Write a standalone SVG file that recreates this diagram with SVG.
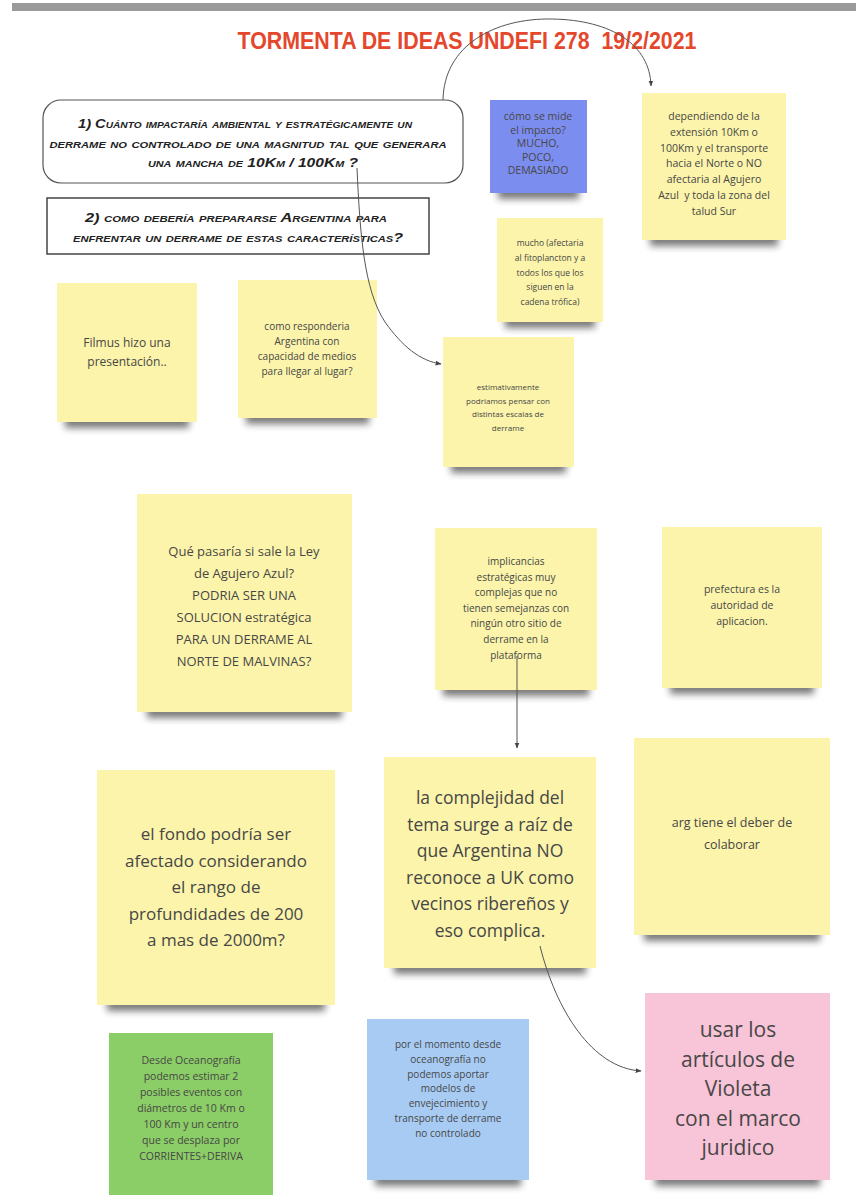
<svg xmlns="http://www.w3.org/2000/svg" width="856" height="1195" viewBox="0 0 856 1195">
<style>
.sh{fill:#222;opacity:.6;filter:url(#blur)}
.y{fill:#FBF4AA}
.bl{fill:#7C8DF0}
.lb{fill:#A7CBF3}
.gr{fill:#8BCD66}
.pk{fill:#F8C4D7}
.t{font-family:"Open Sans","Liberation Sans",sans-serif;fill:#474747;text-anchor:middle}
.hand{font-family:"Liberation Sans",sans-serif;font-weight:bold;font-style:italic;font-variant:small-caps;fill:#222;text-anchor:middle}
.conn{fill:none;stroke:#555;stroke-width:1}
</style>
<defs>
<filter id="blur" x="-20%" y="-200%" width="140%" height="500%"><feGaussianBlur stdDeviation="3.5"/></filter>
<marker id="arr" viewBox="0 0 10 10" refX="9" refY="5" markerWidth="6" markerHeight="6" orient="auto"><path d="M0,1 L10,5 L0,9 z" fill="#444"/></marker>
</defs>
<rect width="856" height="1195" fill="#fff"/>
<rect x="12" y="3" width="844" height="8" fill="#9a9a9a"/>
<text id="title" x="467" y="49" textLength="459" lengthAdjust="spacingAndGlyphs" font-family="Liberation Sans, sans-serif" font-weight="bold" font-size="23" fill="#E4472B" text-anchor="middle">TORMENTA DE IDEAS UNDEFI 278&#160; 19/2/2021</text>

<g id="q1">
<rect x="43" y="100" width="420" height="83" rx="18" fill="#fff" stroke="#555" stroke-width="1.2"/>
<text class="hand" font-size="13"><tspan x="245" y="128" textLength="334" lengthAdjust="spacingAndGlyphs">1) Cuánto impactaría ambiental y estratégicamente un</tspan><tspan x="248" y="148" textLength="397" lengthAdjust="spacingAndGlyphs">derrame no controlado de una magnitud tal que generara</tspan><tspan x="253" y="167" textLength="210" lengthAdjust="spacingAndGlyphs">una mancha de 10Km / 100Km ?</tspan></text>
</g>
<g id="q2">
<rect x="47" y="198" width="382" height="56" fill="#fff" stroke="#444" stroke-width="1.5"/>
<text class="hand" font-size="13"><tspan x="236" y="222" textLength="302" lengthAdjust="spacingAndGlyphs">2) como debería prepararse Argentina para</tspan><tspan x="238" y="242" textLength="330" lengthAdjust="spacingAndGlyphs">enfrentar un derrame de estas características?</tspan></text>
</g>

<g id="s-medida">
<rect class="sh" x="498" y="183" width="81" height="16"/>
<rect class="bl" x="490" y="100" width="97" height="93"/>
<text class="t" font-size="10.5" fill="#333"><tspan x="538" y="120">cómo se mide</tspan><tspan x="538" dy="13.5">el impacto?</tspan><tspan x="538" dy="13.5">MUCHO,</tspan><tspan x="538" dy="13.5">POCO,</tspan><tspan x="538" dy="13.5">DEMASIADO</tspan></text>
</g>
<g id="s-dependiendo">
<rect class="sh" x="650" y="230" width="128" height="16"/>
<rect class="y" x="642" y="93" width="144" height="147"/>
<text class="t" font-size="10.5"><tspan x="714" y="120">dependiendo de la</tspan><tspan x="714" dy="15.8">extensión 10Km o</tspan><tspan x="714" dy="15.8">100Km y el transporte</tspan><tspan x="714" dy="15.8">hacia el Norte o NO</tspan><tspan x="714" dy="15.8">afectaria al Agujero</tspan><tspan x="714" dy="15.8">Azul&#160; y toda la zona del</tspan><tspan x="714" dy="15.8">talud Sur</tspan></text>
</g>
<g id="s-mucho">
<rect class="sh" x="505" y="312" width="90" height="16"/>
<rect class="y" x="497" y="218" width="106" height="104"/>
<text class="t" font-size="8.5"><tspan x="550" y="246">mucho (afectaria</tspan><tspan x="550" dy="14.8">al fitoplancton y a</tspan><tspan x="550" dy="14.8">todos los que los</tspan><tspan x="550" dy="14.8">siguen en la</tspan><tspan x="550" dy="14.8">cadena trófica)</tspan></text>
</g>
<g id="s-filmus">
<rect class="sh" x="65" y="412" width="124" height="16"/>
<rect class="y" x="57" y="283" width="140" height="139"/>
<text class="t" font-size="12"><tspan x="127" y="347">Filmus hizo una</tspan><tspan x="127" dy="19">presentación..</tspan></text>
</g>
<g id="s-responderia">
<rect class="sh" x="246" y="408" width="123" height="16"/>
<rect class="y" x="238" y="280" width="139" height="138"/>
<text class="t" font-size="10"><tspan x="307" y="330">como responderia</tspan><tspan x="307" dy="15">Argentina con</tspan><tspan x="307" dy="15">capacidad de medios</tspan><tspan x="307" dy="15">para llegar al lugar?</tspan></text>
</g>
<g id="s-estimativamente">
<rect class="sh" x="451" y="457" width="115" height="16"/>
<rect class="y" x="443" y="337" width="131" height="130"/>
<text class="t" font-size="8"><tspan x="508" y="390">estimativamente</tspan><tspan x="508" dy="13.5">podriamos pensar con</tspan><tspan x="508" dy="13.5">distintas escalas de</tspan><tspan x="508" dy="13.5">derrame</tspan></text>
</g>
<g id="s-ley">
<rect class="sh" x="147" y="702" width="195" height="16"/>
<rect class="y" x="137" y="494" width="215" height="218"/>
<text class="t" font-size="13"><tspan x="244" y="556">Qué pasaría si sale la Ley</tspan><tspan x="244" dy="22">de Agujero Azul?</tspan><tspan x="244" dy="22">PODRIA SER UNA</tspan><tspan x="244" dy="22">SOLUCION estratégica</tspan><tspan x="244" dy="22">PARA UN DERRAME AL</tspan><tspan x="244" dy="22">NORTE DE MALVINAS?</tspan></text>
</g>
<g id="s-implicancias">
<rect class="sh" x="443" y="680" width="146" height="16"/>
<rect class="y" x="435" y="528" width="162" height="162"/>
<text class="t" font-size="10"><tspan x="516" y="565">implicancias</tspan><tspan x="516" dy="15.6">estratégicas muy</tspan><tspan x="516" dy="15.6">complejas que no</tspan><tspan x="516" dy="15.6">tienen semejanzas con</tspan><tspan x="516" dy="15.6">ningún otro sitio de</tspan><tspan x="516" dy="15.6">derrame en la</tspan><tspan x="516" dy="15.6">plataforma</tspan></text>
</g>
<g id="s-prefectura">
<rect class="sh" x="670" y="678" width="144" height="16"/>
<rect class="y" x="662" y="527" width="160" height="161"/>
<text class="t" font-size="10.5"><tspan x="742" y="593">prefectura es la</tspan><tspan x="742" dy="16">autoridad de</tspan><tspan x="742" dy="16">aplicacion.</tspan></text>
</g>
<g id="s-fondo">
<rect class="sh" x="107" y="995" width="218" height="16"/>
<rect class="y" x="97" y="770" width="238" height="235"/>
<text class="t" font-size="17"><tspan x="216" y="840">el fondo podría ser</tspan><tspan x="216" dy="26.5">afectado considerando</tspan><tspan x="216" dy="26.5">el rango de</tspan><tspan x="216" dy="26.5">profundidades de 200</tspan><tspan x="216" dy="26.5">a mas de 2000m?</tspan></text>
</g>
<g id="s-complejidad">
<rect class="sh" x="394" y="958" width="192" height="16"/>
<rect class="y" x="384" y="757" width="212" height="211"/>
<text class="t" font-size="17.5"><tspan x="490" y="804">la complejidad del</tspan><tspan x="490" dy="26.5">tema surge a raíz de</tspan><tspan x="490" dy="26.5">que Argentina NO</tspan><tspan x="490" dy="26.5">reconoce a UK como</tspan><tspan x="490" dy="26.5">vecinos ribereños y</tspan><tspan x="490" dy="26.5">eso complica.</tspan></text>
</g>
<g id="s-arg">
<rect class="sh" x="644" y="925" width="176" height="16"/>
<rect class="y" x="634" y="738" width="196" height="197"/>
<text class="t" font-size="12.5"><tspan x="732" y="827">arg tiene el deber de</tspan><tspan x="732" dy="22">colaborar</tspan></text>
</g>
<g id="s-oceanografia">
<rect class="gr" x="109" y="1033" width="164" height="162"/>
<text class="t" font-size="10.5" fill="#333"><tspan x="191" y="1064">Desde Oceanografía</tspan><tspan x="191" dy="16">podemos estimar 2</tspan><tspan x="191" dy="16">posibles eventos con</tspan><tspan x="191" dy="16">diámetros de 10 Km o</tspan><tspan x="191" dy="16">100 Km y un centro</tspan><tspan x="191" dy="16">que se desplaza por</tspan><tspan x="191" dy="16">CORRIENTES+DERIVA</tspan></text>
</g>
<g id="s-momento">
<rect class="sh" x="375" y="1170" width="146" height="16"/>
<rect class="lb" x="367" y="1019" width="162" height="161"/>
<text class="t" font-size="10" fill="#333"><tspan x="448" y="1048">por el momento desde</tspan><tspan x="448" dy="14.8">oceanografía no</tspan><tspan x="448" dy="14.8">podemos aportar</tspan><tspan x="448" dy="14.8">modelos de</tspan><tspan x="448" dy="14.8">envejecimiento y</tspan><tspan x="448" dy="14.8">transporte de derrame</tspan><tspan x="448" dy="14.8">no controlado</tspan></text>
</g>
<g id="s-violeta">
<rect class="sh" x="655" y="1170" width="165" height="16"/>
<rect class="pk" x="645" y="993" width="185" height="187"/>
<text class="t" font-size="21"><tspan x="738" y="1037">usar los</tspan><tspan x="738" dy="29.5">artículos de</tspan><tspan x="738" dy="29.5">Violeta</tspan><tspan x="738" dy="29.5">con el marco</tspan><tspan x="738" dy="29.5">juridico</tspan></text>
</g>

<g id="connectors">
<path class="conn" d="M443,100 C444,45 495,18 552,19 C612,20 650,45 651,86" marker-end="url(#arr)"/>
<path class="conn" d="M357,168 C360,235 364,290 385,322 C402,346 420,361 441,364" marker-end="url(#arr)"/>
<path class="conn" d="M517,656 L517,748" marker-end="url(#arr)"/>
<path class="conn" d="M540,946 C556,1010 592,1068 641,1071" marker-end="url(#arr)"/>
</g>
</svg>
